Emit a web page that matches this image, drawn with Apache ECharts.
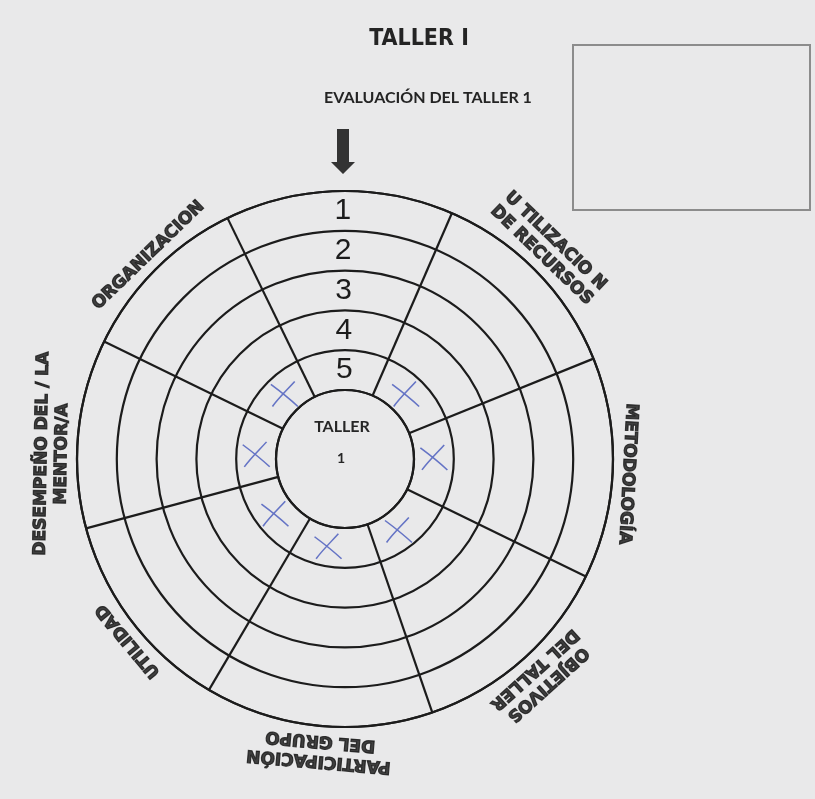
<!DOCTYPE html>
<html><head><meta charset="utf-8">
<script src="https://cdn.jsdelivr.net/npm/echarts@6/dist/echarts.min.js"></script>
<style>html,body{margin:0;padding:0;background:#e9e9ea;} #c{width:815px;height:799px;}</style>
</head><body><div id="c"></div>
<script>
// ---- data ----
const ratingLevels = ['5', '4', '3', '2', '1'];            // rings, inner -> outer
const categoryLines = [
  ['ORGANIZACION'],
  ['U TILIZACIO N', 'DE RECURSOS'],
  ['METODOLOGÍA'],
  ['OBJETIVOS', 'DEL TALLER'],
  ['PARTICIPACIÓN', 'DEL GRUPO'],
  ['UTILIDAD'],
  ['DESEMPEÑO DEL / LA', 'MENTOR/A']
];
const labelAngles = [134, 46, 357, 312, 265, 220, 179];     // degrees, counter-clockwise from east
const scores = [5, 5, 5, 5, 5, 5, 5];
const markAngles = [133, 47, 1, 307, 259, 218, 177];
const dividerAngles = [22, 66.5, 116, 154, 195, 239.5, 289, 334];
const titleText = 'TALLER I';
const subtitleText = 'EVALUACIÓN DEL TALLER 1';
const centerLines = ['TALLER', '1'];

// ---- layout / style ----
const CX = 345, CY = 459, R0 = 69, R1 = 268, START = 90.5;
const INK = '#1c1c1c', BLUE = '#4456bb';
const toAxis = a => (a < START ? a + 360 : a);
const norm = d => { while (d > 180) d -= 360; while (d <= -180) d += 360; return d; };

const chart = echarts.init(document.getElementById('c'), null, {renderer: 'canvas'});

const angleAxisBase = {
  type: 'value', min: START, max: START + 360, startAngle: START, clockwise: false,
  axisTick: {show: false}, axisLabel: {show: false}, splitLine: {show: false}, splitArea: {show: false}
};

const dividerSeries = dividerAngles.map(a => ({
  type: 'line', coordinateSystem: 'polar', polarIndex: 1,
  data: [[R0, toAxis(a)], [R1, toAxis(a)]],
  symbol: 'none', lineStyle: {color: INK, width: 2.2}, silent: true, animation: false, z: 2
}));

const labelData = [];
categoryLines.forEach((lines, i) => {
  const a = labelAngles[i];
  lines.forEach((t, j) => {
    const r = lines.length === 1 ? R1 + 15 : (j === 0 ? R1 + 35 : R1 + 15);
    labelData.push({value: [r, toAxis(a)], name: t, label: {rotate: norm(a - 90)}});
  });
});

const option = {
  backgroundColor: '#e9e9ea',
  animation: false,
  polar: [
    {center: [CX, CY], radius: [R0, R1]},
    {center: [CX, CY], radius: [0, R1]}
  ],
  angleAxis: [
    Object.assign({polarIndex: 0, axisLine: {show: true, lineStyle: {color: INK, width: 2.2}}}, angleAxisBase),
    Object.assign({polarIndex: 1, axisLine: {show: false}}, angleAxisBase)
  ],
  radiusAxis: [
    {
      polarIndex: 0, type: 'category', data: ratingLevels, boundaryGap: true,
      axisLine: {show: false}, axisTick: {show: false},
      axisLabel: {show: true, interval: 0, margin: 0, align: 'center', verticalAlign: 'middle',
        fontSize: 30, color: INK, fontFamily: 'Liberation Sans'},
      splitLine: {show: true, interval: 0, lineStyle: {color: INK, width: 2.2}},
      z: 5
    },
    {
      polarIndex: 1, type: 'value', min: 0, max: R1,
      axisLine: {show: false}, axisTick: {show: false}, axisLabel: {show: false},
      splitLine: {show: false}, splitArea: {show: false}
    }
  ],
  graphic: [
    {type: 'text', x: 419, y: 39, style: {text: titleText, align: 'center', verticalAlign: 'middle',
      fontFamily: 'DejaVu Sans Condensed', fontWeight: 'bold', fontSize: 23, fill: '#242424'}},
    {type: 'text', x: 428, y: 98, style: {text: subtitleText, align: 'center', verticalAlign: 'middle',
      fontFamily: 'Lato', fontWeight: 'bold', fontSize: 16, fill: '#242424'}},
    {type: 'rect', shape: {x: 573, y: 45, width: 237, height: 165},
      style: {fill: 'none', stroke: '#8c8c8c', lineWidth: 2}},
    {type: 'polygon', shape: {points: [[337, 129], [349, 129], [349, 162], [355, 162], [343, 174], [331, 162], [337, 162]]},
      style: {fill: '#333'}},
    {type: 'text', x: CX - 3, y: CY - 32, style: {text: centerLines[0], align: 'center', verticalAlign: 'middle',
      fontFamily: 'Lato', fontWeight: 'bold', fontSize: 16, fill: '#262626'}},
    {type: 'text', x: CX - 4, y: CY - 1, style: {text: centerLines[1], align: 'center', verticalAlign: 'middle',
      fontFamily: 'Lato', fontWeight: 'bold', fontSize: 14, fill: '#262626'}}
  ],
  series: dividerSeries.concat([
    {
      type: 'scatter', coordinateSystem: 'polar', polarIndex: 0, z: 6,
      symbol: 'path://M2,4 C7,8 13,13 19,19 M17,2 C12,8 7,13 3,19',
      symbolSize: [27, 25],
      itemStyle: {color: 'rgba(0,0,0,0)', borderColor: BLUE, borderWidth: 1.5},
      data: scores.map((s, i) => [ratingLevels.indexOf(String(s)), toAxis(markAngles[i])]),
      silent: true
    },
    {
      type: 'scatter', coordinateSystem: 'polar', polarIndex: 1, clip: false, z: 6,
      symbolSize: 0, itemStyle: {color: 'rgba(0,0,0,0)'},
      label: {show: true, position: 'inside', formatter: p => p.name, align: 'center', verticalAlign: 'middle',
        fontFamily: 'DejaVu Sans', fontWeight: 'bold', fontSize: 17, color: '#141414',
        textBorderColor: '#141414', textBorderWidth: 1.2},
      data: labelData,
      silent: true
    }
  ])
};
chart.setOption(option);
</script>
</body></html>
